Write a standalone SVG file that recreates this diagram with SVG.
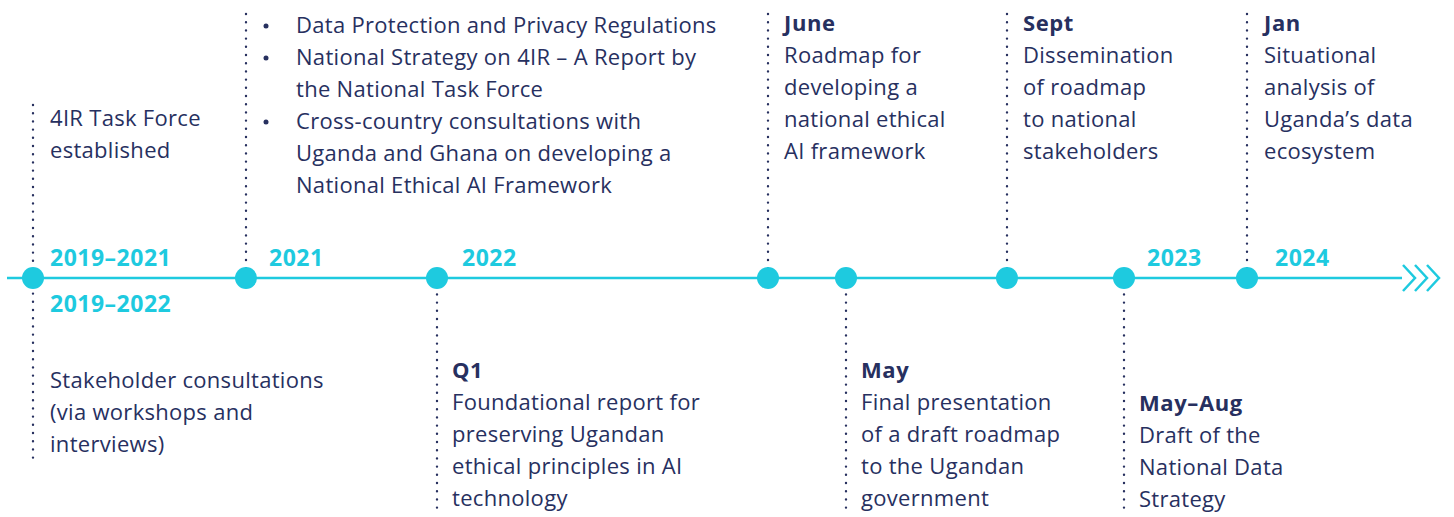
<svg xmlns="http://www.w3.org/2000/svg" width="1454" height="517" viewBox="0 0 1454 517">
<style>
.t{font-family:"Open Sans","Liberation Sans",sans-serif;font-size:22px;letter-spacing:0.3px;fill:#27305f}
.b{font-weight:700;letter-spacing:0.6px}
.y{font-family:"Open Sans","Liberation Sans",sans-serif;font-size:23px;font-weight:700;letter-spacing:0.5px;fill:#1ecadf}
.dot{stroke:#27305f;stroke-width:2.4;stroke-linecap:round;stroke-dasharray:0 8.2;fill:none}
.node{fill:#1ecadf}
</style>
<rect width="1454" height="517" fill="#fff"/>
<g id="connectors">
<line x1="33" y1="105" x2="33" y2="465" class="dot"/>
<line x1="246" y1="14" x2="246" y2="278" class="dot"/>
<line x1="437" y1="278" x2="437" y2="512" class="dot"/>
<line x1="768" y1="14" x2="768" y2="278" class="dot"/>
<line x1="846" y1="278" x2="846" y2="512" class="dot"/>
<line x1="1007" y1="14" x2="1007" y2="278" class="dot"/>
<line x1="1124" y1="278" x2="1124" y2="512" class="dot"/>
<line x1="1247" y1="14" x2="1247" y2="278" class="dot"/>
<line x1="7" y1="278" x2="1402" y2="278" stroke="#1ecadf" stroke-width="2.5"/>
<polyline points="1403,265 1415,278 1403,291" fill="none" stroke="#1ecadf" stroke-width="2.5"/>
<polyline points="1415,265 1427,278 1415,291" fill="none" stroke="#1ecadf" stroke-width="2.5"/>
<polyline points="1427,265 1439,278 1427,291" fill="none" stroke="#1ecadf" stroke-width="2.5"/>
</g>
<g id="n2019">
<circle cx="33" cy="278" r="11" class="node"/>
<text x="50" y="266" class="y">2019–2021</text>
<text x="50" y="312" class="y">2019–2022</text>
<text x="50" y="126" class="t">4IR Task Force</text>
<text x="50" y="158" class="t">established</text>
<text x="50" y="388" class="t">Stakeholder consultations</text>
<text x="50" y="420" class="t">(via workshops and</text>
<text x="50" y="452" class="t">interviews)</text>
</g>
<g id="n2021">
<circle cx="246" cy="278" r="11" class="node"/>
<text x="269" y="266" class="y">2021</text>
<circle cx="266" cy="26" r="2.5" fill="#27305f"/>
<circle cx="266" cy="58" r="2.5" fill="#27305f"/>
<circle cx="266" cy="122" r="2.5" fill="#27305f"/>
<text x="296" y="33" class="t">Data Protection and Privacy Regulations</text>
<text x="296" y="65" class="t">National Strategy on 4IR – A Report by</text>
<text x="296" y="97" class="t">the National Task Force</text>
<text x="296" y="129" class="t">Cross-country consultations with</text>
<text x="296" y="161" class="t">Uganda and Ghana on developing a</text>
<text x="296" y="193" class="t">National Ethical AI Framework</text>
</g>
<g id="n2022">
<circle cx="437" cy="278" r="11" class="node"/>
<text x="462" y="266" class="y">2022</text>
<text x="452" y="378" class="t b">Q1</text>
<text x="452" y="410" class="t">Foundational report for</text>
<text x="452" y="442" class="t">preserving Ugandan</text>
<text x="452" y="474" class="t">ethical principles in AI</text>
<text x="452" y="506" class="t">technology</text>
</g>
<g id="nJune">
<circle cx="768" cy="278" r="11" class="node"/>
<text x="784" y="31" class="t b">June</text>
<text x="784" y="63" class="t">Roadmap for</text>
<text x="784" y="95" class="t">developing a</text>
<text x="784" y="127" class="t">national ethical</text>
<text x="784" y="159" class="t">AI framework</text>
</g>
<g id="nMay">
<circle cx="846" cy="278" r="11" class="node"/>
<text x="861" y="378" class="t b">May</text>
<text x="861" y="410" class="t">Final presentation</text>
<text x="861" y="442" class="t">of a draft roadmap</text>
<text x="861" y="474" class="t">to the Ugandan</text>
<text x="861" y="506" class="t">government</text>
</g>
<g id="nSept">
<circle cx="1007" cy="278" r="11" class="node"/>
<text x="1023" y="31" class="t b">Sept</text>
<text x="1023" y="63" class="t">Dissemination</text>
<text x="1023" y="95" class="t">of roadmap</text>
<text x="1023" y="127" class="t">to national</text>
<text x="1023" y="159" class="t">stakeholders</text>
</g>
<g id="n2023">
<circle cx="1124" cy="278" r="11" class="node"/>
<text x="1147" y="266" class="y">2023</text>
<text x="1139" y="411" class="t b">May–Aug</text>
<text x="1139" y="443" class="t">Draft of the</text>
<text x="1139" y="475" class="t">National Data</text>
<text x="1139" y="507" class="t">Strategy</text>
</g>
<g id="n2024">
<circle cx="1247" cy="278" r="11" class="node"/>
<text x="1275" y="266" class="y">2024</text>
<text x="1264" y="31" class="t b">Jan</text>
<text x="1264" y="63" class="t">Situational</text>
<text x="1264" y="95" class="t">analysis of</text>
<text x="1264" y="127" class="t">Uganda’s data</text>
<text x="1264" y="159" class="t">ecosystem</text>
</g>
</svg>
